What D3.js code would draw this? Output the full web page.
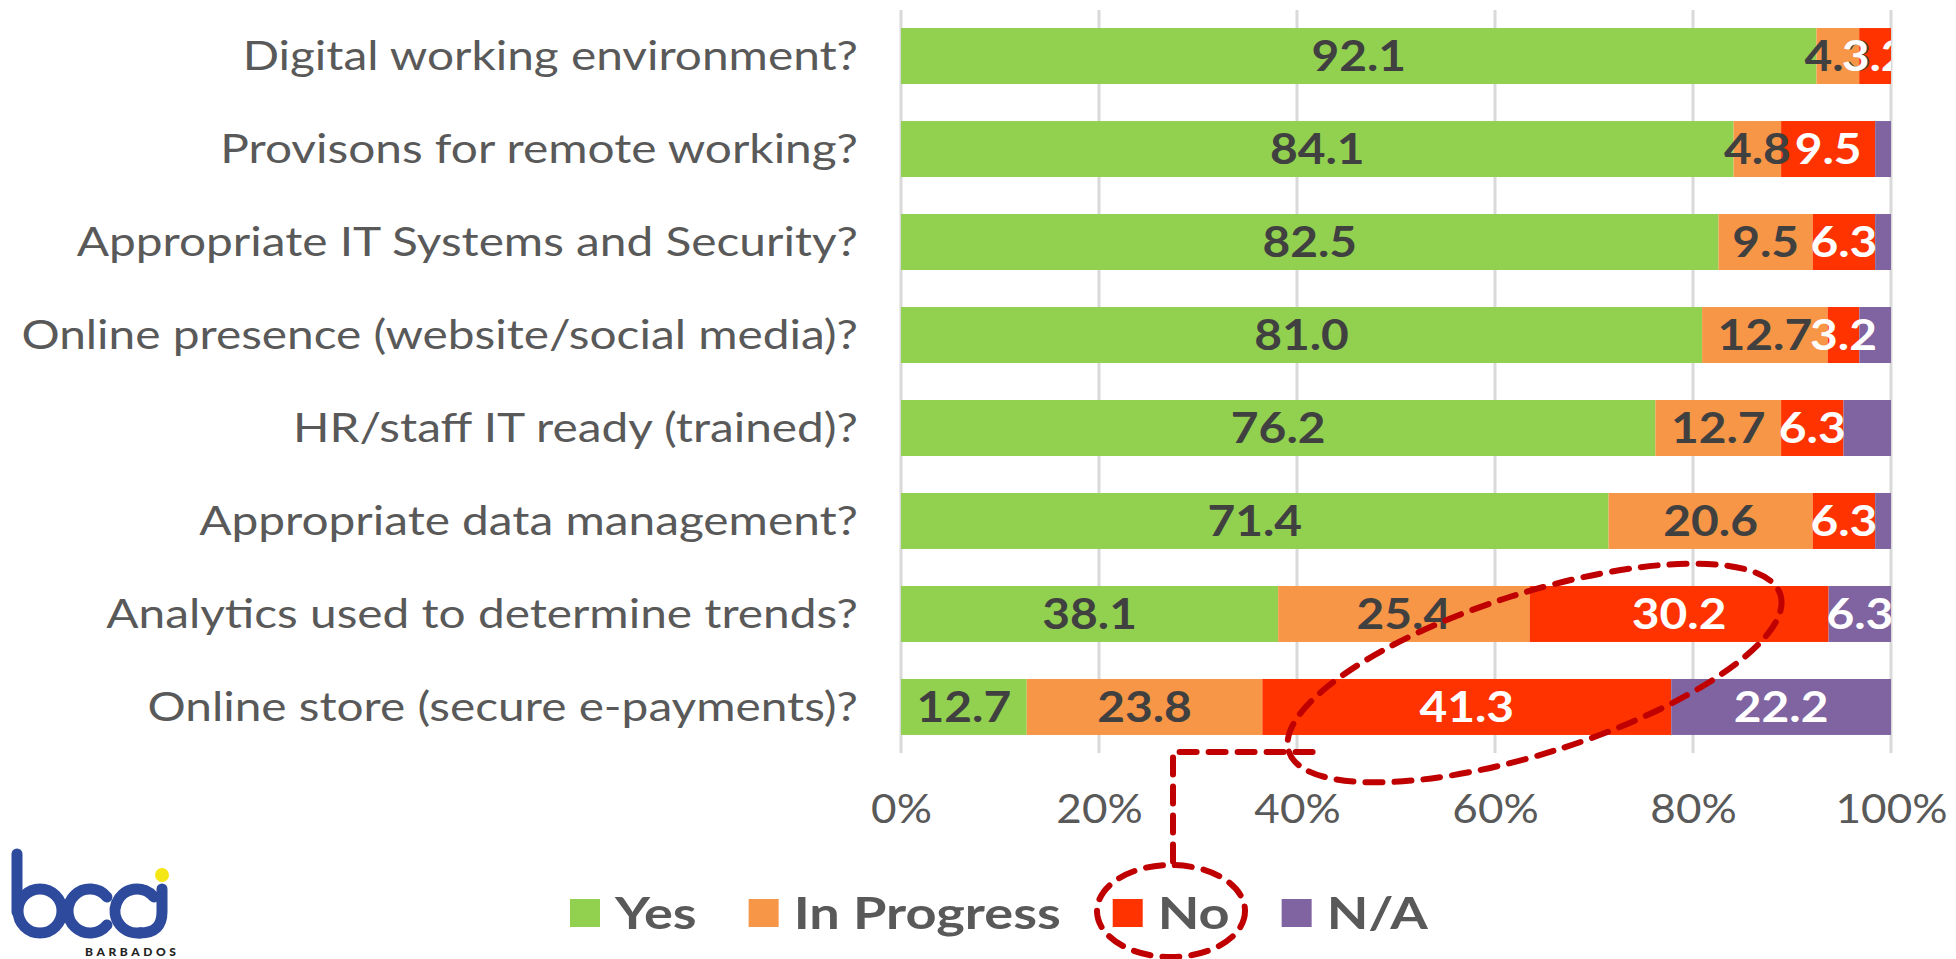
<!DOCTYPE html>
<html>
<head>
<meta charset="utf-8">
<script src="https://cdn.jsdelivr.net/npm/d3@7"></script>
<style>
    body { margin: 0; background: #fff; }
    #chart-area { width: 1956px; height: 959px; }
    text { font-family: Lato, "Open Sans", sans-serif; }
</style>
</head>
<body>
<div id="chart-area"></div>
<script>

// data
const categories = [
    "Digital working environment?",
    "Provisons for remote working?",
    "Appropriate IT Systems and Security?",
    "Online presence (website/social media)?",
    "HR/staff IT ready (trained)?",
    "Appropriate data management?",
    "Analytics used to determine trends?",
    "Online store (secure e-payments)?"
];
const seriesNames = ["Yes", "In Progress", "No", "N/A"];
const yesValues        = [92.1, 84.1, 82.5, 81.0, 76.2, 71.4, 38.1, 12.7];
const inProgressValues = [4.3, 4.8, 9.5, 12.7, 12.7, 20.6, 25.4, 23.8];
const noValues         = [3.2, 9.5, 6.3, 3.2, 6.3, 6.3, 30.2, 41.3];
const naValues         = [0, 1.6, 1.6, 3.2, 4.8, 1.6, 6.3, 22.2];
const tickValues = [0, 0.2, 0.4, 0.6, 0.8, 1];

// N/A labels under this value were left off in the original
const naLabelMin = 5;

const colors = ["#92d050", "#f79646", "#ff3300", "#8064a2"];
const labelColors = ["#404040", "#404040", "#ffffff", "#ffffff"];

// the original picture was stretched sideways, so text is too
const stretch = 1.2;


class StackedBarVis {

    constructor(parentElement){
        this.parentElement = parentElement;
        this.initVis()
    }

    initVis(){
        let vis = this;

        vis.margin = {top: 10, right: 65, bottom: 206, left: 901};
        vis.width = 1956 - vis.margin.left - vis.margin.right;
        vis.height = 959 - vis.margin.top - vis.margin.bottom;

        vis.root = d3.select("#" + vis.parentElement).append("svg")
            .attr("width", 1956)
            .attr("height", 959);

        vis.svg = vis.root.append("g")
            .attr("transform", `translate (${vis.margin.left}, ${vis.margin.top})`);

        vis.x = d3.scaleLinear().domain([0, 1]).range([0, vis.width]);
        vis.y = d3.scaleBand().domain(categories).range([0, vis.height])
            .paddingInner(0.398).paddingOuter(0.194);

        vis.svg.append("defs").append("clipPath")
            .attr("id", "plot-clip")
            .append("rect")
            .attr("x", 0).attr("y", 0)
            .attr("width", vis.width).attr("height", vis.height);

        // gridlines
        vis.svg.append("g")
            .attr("class", "grid")
            .selectAll("line")
            .data(tickValues)
            .join("line")
            .attr("x1", d => vis.x(d)).attr("x2", d => vis.x(d))
            .attr("y1", 0).attr("y2", vis.height)
            .attr("stroke", "#d9d9d9")
            .attr("stroke-width", 3);

        // x axis labels
        vis.xAxis = d3.axisBottom(vis.x)
            .tickValues(tickValues)
            .tickFormat(d3.format(".0%"))
            .tickSize(0)
            .tickPadding(62);
        vis.xAxisG = vis.svg.append("g")
            .attr("transform", `translate(0, ${vis.height})`)
            .call(vis.xAxis);
        vis.xAxisG.select(".domain").remove();
        vis.xAxisG.selectAll("text")
            .attr("font-family", "Lato, sans-serif")
            .attr("font-size", 40)
            .attr("fill", "#595959")
            .attr("dy", "0.2em")
            .attr("transform", `scale(${stretch - 0.1}, 1)`);

        // category labels
        let catStretch = stretch - 0.005;
        vis.yAxis = d3.axisLeft(vis.y).tickSize(0).tickPadding(0);
        vis.yAxisG = vis.svg.append("g").call(vis.yAxis);
        vis.yAxisG.select(".domain").remove();
        vis.yAxisG.selectAll("text")
            .attr("font-family", "Lato, sans-serif")
            .attr("font-size", 40)
            .attr("fill", "#595959")
            .attr("x", -43 / catStretch)
            .attr("dy", "0.36em")
            .attr("transform", `scale(${catStretch}, 1)`);

        vis.barG = vis.svg.append("g").attr("class", "bars");
        vis.labelG = vis.svg.append("g").attr("class", "labels")
            .attr("clip-path", "url(#plot-clip)");

        vis.drawLegend();
        vis.drawAnnotation();
        vis.drawLogo();

        this.wrangleData();
    }

    wrangleData(){
        let vis = this

        let columns = [yesValues, inProgressValues, noValues, naValues];
        vis.displayData = categories.map((c, i) => {
            let row = {category: c};
            seriesNames.forEach((s, j) => row[s] = columns[j][i]);
            return row;
        });

        // 100% stacked, like the original spreadsheet chart
        vis.stacked = d3.stack()
            .keys(seriesNames)
            .offset(d3.stackOffsetExpand)(vis.displayData);

        vis.updateVis()
    }

    updateVis(){
        let vis = this;

        let layers = vis.barG.selectAll("g.layer")
            .data(vis.stacked)
            .join("g")
            .attr("class", "layer")
            .attr("fill", (d, i) => colors[i]);

        layers.selectAll("rect")
            .data(d => d)
            .join("rect")
            .attr("x", d => vis.x(d[0]))
            .attr("y", d => vis.y(d.data.category))
            .attr("width", d => vis.x(d[1]) - vis.x(d[0]))
            .attr("height", vis.y.bandwidth());

        let labelLayers = vis.labelG.selectAll("g.label-layer")
            .data(vis.stacked)
            .join("g")
            .attr("class", "label-layer")
            .attr("fill", (d, i) => labelColors[i]);

        labelLayers.selectAll("text")
            .data(d => d.filter(p => {
                let v = p.data[d.key];
                if (v <= 0) return false;
                if (d.key === "N/A" && v < naLabelMin) return false;
                return true;
            }).map(p => ({p: p, key: d.key})))
            .join("text")
            .attr("transform", d => {
                let cx = vis.x((d.p[0] + d.p[1]) / 2);
                let cy = vis.y(d.p.data.category) + vis.y.bandwidth() / 2;
                return `translate(${cx}, ${cy}) scale(${stretch - 0.06}, 1)`;
            })
            .attr("dy", "0.36em")
            .attr("text-anchor", "middle")
            .attr("font-family", "Lato, sans-serif")
            .attr("font-weight", 700)
            .attr("font-size", 42)
            .text(d => d3.format(".1f")(d.p.data[d.key]));
    }

    drawLegend(){
        let vis = this;

        let legend = vis.root.append("g")
            .attr("class", "legend")
            .attr("transform", "translate(570, 913)");

        let xPos = 0;
        seriesNames.forEach((s, i) => {
            let item = legend.append("g").attr("transform", `translate(${xPos}, 0)`);
            item.append("rect")
                .attr("x", 0).attr("y", -14)
                .attr("width", 30).attr("height", 28)
                .attr("fill", colors[i]);
            let t = item.append("text")
                .attr("transform", `translate(45, 0) scale(${stretch + 0.03}, 1)`)
                .attr("dy", "0.36em")
                .attr("font-family", "Lato, sans-serif")
                .attr("font-weight", 700)
                .attr("font-size", 44)
                .attr("fill", "#595959")
                .text(s);
            xPos += 45 + t.node().getComputedTextLength() * (stretch + 0.03) + 52;
        });
    }

    drawAnnotation(){
        let vis = this;

        let red = "#c00000";
        let ann = vis.root.append("g")
            .attr("class", "annotation")
            .attr("fill", "none")
            .attr("stroke", red)
            .attr("stroke-width", 6)
            .attr("stroke-dasharray", "17 12")
            .attr("stroke-linecap", "round");

        // loop round the "No" part of the two bottom bars
        let cx = vis.margin.left + vis.x(0.64);
        let cy = vis.margin.top + vis.y(categories[7]) - 6;
        ann.append("ellipse")
            .attr("cx", 0).attr("cy", 0)
            .attr("rx", 258).attr("ry", 80)
            .attr("transform", `translate(${cx}, ${cy}) rotate(-17.7)`);

        // connector down to the legend
        let legendNoX = 1171;
        ann.append("path")
            .attr("d", `M ${cx - 222} ${vis.margin.top + vis.height - 1} H ${legendNoX + 2} V 866`);

        ann.append("ellipse")
            .attr("cx", legendNoX).attr("cy", 911)
            .attr("rx", 74).attr("ry", 46);
    }

    drawLogo(){
        let vis = this;

        let blue = "#2d4a9c";
        let logo = vis.root.append("g")
            .attr("class", "logo")
            .attr("fill", "none")
            .attr("stroke", blue)
            .attr("stroke-width", 11)
            .attr("stroke-linecap", "round");

        // b
        logo.append("line").attr("x1", 17).attr("y1", 854).attr("x2", 17).attr("y2", 912);
        logo.append("circle").attr("cx", 40).attr("cy", 911).attr("r", 22);

        // c c
        let cArc = (cx, a0, a1) => {
            let r = 22;
            let p0 = [cx + r * Math.sin(a0), 911 - r * Math.cos(a0)];
            let p1 = [cx + r * Math.sin(a1), 911 - r * Math.cos(a1)];
            return `M ${p0[0]} ${p0[1]} A ${r} ${r} 0 1 0 ${p1[0]} ${p1[1]}`;
        };
        logo.append("path").attr("d", cArc(90, Math.PI * 0.28, Math.PI * 0.72));
        logo.append("path").attr("d", cArc(137, Math.PI * 0.28, Math.PI * 0.95));

        // i, curling into the last c
        logo.append("path").attr("d", "M 162 889 V 912 Q 162 933 140 933");

        logo.append("circle")
            .attr("cx", 162).attr("cy", 875).attr("r", 7)
            .attr("stroke", "none").attr("fill", "#f5e616");

        vis.root.append("text")
            .attr("x", 85).attr("y", 956)
            .attr("font-family", "Lato, sans-serif")
            .attr("font-weight", 900)
            .attr("font-size", 12)
            .attr("letter-spacing", 3.6)
            .attr("fill", "#222")
            .text("BARBADOS");
    }
}

let barVis = new StackedBarVis("chart-area");

</script>
</body>
</html>
